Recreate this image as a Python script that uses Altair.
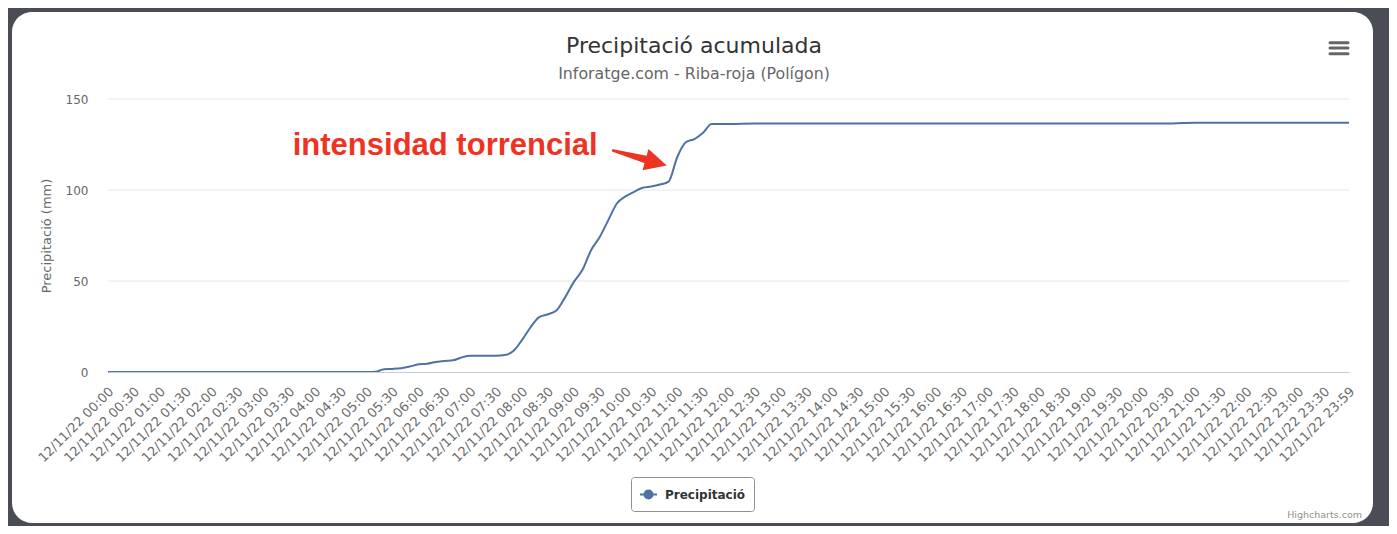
import altair as alt
import pandas as pd

# ---- data ----
times = ["00:00", "04:30", "05:00", "05:10", "05:20", "05:30", "05:40", "05:50",
         "06:00", "06:10", "06:20", "06:30", "06:40", "06:50",
         "07:00", "07:10", "07:20", "07:30", "07:40", "07:50",
         "08:00", "08:10", "08:20", "08:30", "08:40", "08:50",
         "09:00", "09:10", "09:20", "09:30", "09:40", "09:50",
         "10:00", "10:10", "10:20", "10:30", "10:40", "10:50",
         "11:00", "11:10", "11:20", "11:30", "11:40", "12:00",
         "12:30", "13:00", "14:00", "15:00", "16:00", "17:00", "18:00",
         "19:00", "20:00", "20:30", "21:00", "21:30", "22:00", "23:00", "23:59"]
values = [0, 0, 0, 0.1, 1.5, 1.7, 2.1, 3.0,
          4.2, 4.5, 5.5, 6.1, 6.4, 8.0,
          8.9, 8.9, 8.9, 8.9, 9.3, 11.5,
          17.5, 24.6, 30.2, 31.7, 33.8, 41.0,
          49.4, 56.0, 66.8, 74.0, 83.3, 92.6,
          96.5, 99.0, 101.2, 101.9, 103.0, 104.6,
          118.0, 126.2, 128.0, 131.5, 136.3, 136.3,
          136.5, 136.5, 136.5, 136.5, 136.5, 136.5, 136.5,
          136.5, 136.5, 136.5, 137.0, 137.0, 137.0, 137.0, 137.0]

tick_times = ["00:00", "00:30", "01:00", "01:30", "02:00", "02:30", "03:00", "03:30",
              "04:00", "04:30", "05:00", "05:30", "06:00", "06:30", "07:00", "07:30",
              "08:00", "08:30", "09:00", "09:30", "10:00", "10:30", "11:00", "11:30",
              "12:00", "12:30", "13:00", "13:30", "14:00", "14:30", "15:00", "15:30",
              "16:00", "16:30", "17:00", "17:30", "18:00", "18:30", "19:00", "19:30",
              "20:00", "20:30", "21:00", "21:30", "22:00", "22:30", "23:00", "23:30",
              "23:59"]
date_label = "12/11/22"
y_ticks = [0, 50, 100, 150]
grid_vals = [50, 100, 150]
series_name = "Precipitació"

title_text = "Precipitació acumulada"
subtitle_text = "Inforatge.com - Riba-roja (Polígon)"
y_title = "Precipitació (mm)"

annot_text = ["intensidad torrencial"]
annot_t = [391]
annot_v = [119.0]
arrow_t = [585.6, 626.2]
arrow_v = [121.7, 116.4]
arrow_w = [2.5, 8]
head_t = [635.6]
head_v = [115.1]


def to_min(s):
    h, m = s.split(":")
    return int(h) * 60 + int(m)


df = pd.DataFrame({"t": [to_min(s) for s in times], "v": values,
                   "serie": [series_name] * len(times)})
tick_vals = [to_min(s) for s in tick_times]
tick_labels = [f"{date_label} {s}" for s in tick_times]

label_expr = ("[" + ",".join(f"'{l}'" for l in tick_labels) + "][indexof(["
              + ",".join(str(v) for v in tick_vals) + "], datum.value)]")

W, H = 1241, 273
LINE = "#4d72a3"
RED = "#ee3322"
FONT = "DejaVu Sans"

xscale = alt.Scale(domain=[0, 1439], nice=False, zero=False)
yscale = alt.Scale(domain=[0, 150], nice=False)

one = pd.DataFrame({"k": [0]})

card = alt.Chart(one).mark_rect(fill="white", cornerRadius=20).encode(
    x=alt.value(-96), x2=alt.value(1265), y=alt.value(-87), y2=alt.value(424))

grid = alt.Chart(pd.DataFrame({"g": grid_vals})).mark_rule(
    color="#e6e6e6", strokeWidth=1).encode(
    y=alt.Y("g:Q", scale=yscale), x=alt.value(0), x2=alt.value(W))

line = alt.Chart(df).mark_line(interpolate="monotone", strokeWidth=2).encode(
    x=alt.X("t:Q", scale=xscale,
            axis=alt.Axis(values=tick_vals, tickCount=100, labelExpr=label_expr,
                          labelAngle=-45, labelAlign="right", labelBaseline="middle",
                          labelOverlap=False, labelBound=False, labelFlush=False,
                          ticks=False, grid=False, domainColor="#C0D0E0",
                          labelColor="#6a6a6a", labelFont=FONT, labelFontSize=13,
                          labelPadding=17, labelOffset=3, title=None, zindex=1)),
    y=alt.Y("v:Q", scale=yscale,
            axis=alt.Axis(values=y_ticks, grid=False,
                          domain=False, ticks=False, labelPadding=20,
                          labelColor="#666666", labelFont=FONT, labelFontSize=12,
                          title=y_title, titleFont=FONT, titleFontSize=13,
                          titleFontWeight="normal", titleColor="#666666",
                          titlePadding=12, zindex=1)),
    color=alt.Color("serie:N", scale=alt.Scale(range=[LINE]),
                    legend=alt.Legend(orient="none", legendX=523, legendY=378,
                                      title=None, direction="horizontal",
                                      strokeColor="#909090", fillColor="white",
                                      padding=8, cornerRadius=3,
                                      symbolType="M-1,0L1,0M-0.47,0A0.47,0.47,0,1,0,0.47,0A0.47,0.47,0,1,0,-0.47,0Z",
                                      symbolSize=289, symbolStrokeWidth=2,
                                      symbolFillColor=LINE, symbolStrokeColor=LINE,
                                      labelFont=FONT, labelFontWeight="bold",
                                      labelFontSize=12, labelColor="#333333",
                                      labelOffset=7)),
)

annot = alt.Chart(pd.DataFrame({"t": annot_t, "v": annot_v, "txt": annot_text})).mark_text(
    font="Liberation Sans", fontWeight="bold", fontSize=31, color=RED,
    align="center", baseline="alphabetic").encode(
    x=alt.X("t:Q", scale=xscale), y=alt.Y("v:Q", scale=yscale), text="txt:N")

arrow = alt.Chart(pd.DataFrame({"t": arrow_t, "v": arrow_v, "w": arrow_w})).mark_trail(
    color=RED).encode(x=alt.X("t:Q", scale=xscale), y=alt.Y("v:Q", scale=yscale),
                      size=alt.Size("w:Q", scale=None, legend=None))

head = alt.Chart(pd.DataFrame({"t": head_t, "v": head_v})).mark_point(
    shape="M-1,-1L1,0L-1,1Z", size=484, filled=True, color=RED, opacity=1,
    angle=15.5).encode(x=alt.X("t:Q", scale=xscale), y=alt.Y("v:Q", scale=yscale))

title = alt.Chart(one).mark_text(font=FONT, fontSize=22, color="#333333",
                                 align="center", baseline="alphabetic").encode(
    x=alt.value(586), y=alt.value(-46), text=alt.value(title_text))
subtitle = alt.Chart(one).mark_text(font=FONT, fontSize=15.8, color="#666666",
                                    align="center", baseline="alphabetic").encode(
    x=alt.value(586), y=alt.value(-20), text=alt.value(subtitle_text))

credit = alt.Chart(one).mark_text(font=FONT, fontSize=9.5, color="#909090",
                                  align="right", baseline="alphabetic").encode(
    x=alt.value(1254), y=alt.value(419), text=alt.value("Highcharts.com"))

menu = [alt.Chart(one).mark_rule(color="#666666", strokeWidth=3, strokeCap="round").encode(
    x=alt.value(1222), x2=alt.value(1240), y=alt.value(yy))
    for yy in (-56.3, -51, -45.3)]

chart = alt.layer(card, grid, line, annot, arrow, head, title, subtitle, credit, *menu).properties(
    width=W, height=H,
    autosize=alt.AutoSizeParams(type="none"),
    padding={"left": 100, "top": 91, "right": 40, "bottom": 154},
).configure(background="#4a4c56").configure_view(stroke=None)

chart.save("out.html", embed_options={"renderer": "svg", "actions": False})
